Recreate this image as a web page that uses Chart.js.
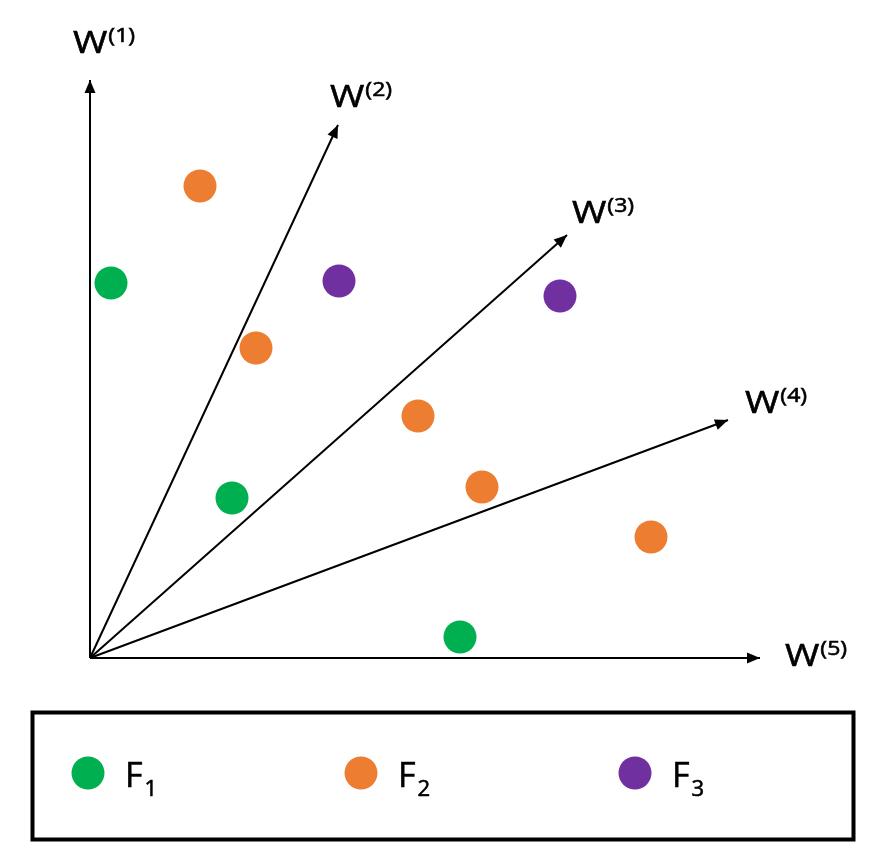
<!DOCTYPE html>
<html>
<head>
<meta charset="utf-8">
<script src="https://cdn.jsdelivr.net/npm/chart.js@4.4.1/dist/chart.umd.min.js"></script>
<style>
  body { margin: 0; background: #fff; }
</style>
</head>
<body>
<canvas id="wChart" width="880" height="864"></canvas>
<script>
// weight directions (tip of each arrow, origin is 0,0)
var arrowNames = ['1', '2', '3', '4', '5'];
var arrowX = [0, 248, 477, 638, 670];
var arrowY = [578, 533, 423, 238, 0];

// feature groups
var seriesNames = ['F', 'F', 'F'];
var seriesSubs = ['1', '2', '3'];
var f1X = [21, 142, 370];
var f1Y = [375, 160, 21];
var f2X = [110, 166, 328, 392, 561];
var f2Y = [472, 310, 242, 171, 121];
var f3X = [249, 470];
var f3Y = [377, 362];

var colors = ['#00b050', '#ed7d31', '#7030a0'];
var fontFam = '"Open Sans", "DejaVu Sans", sans-serif';

function pts(xs, ys) {
    return xs.map(function(x, i){ return {x: x, y: ys[i]}; });
}

var datasets = [];
[[f1X, f1Y], [f2X, f2Y], [f3X, f3Y]].forEach(function(s, i){
    datasets.push({
        label: seriesNames[i] + seriesSubs[i],
        data: pts(s[0], s[1]),
        backgroundColor: colors[i],
        borderColor: colors[i],
        pointRadius: 16.5,
        pointHoverRadius: 16.5,
        borderWidth: 0,
        clip: false
    });
});
arrowX.forEach(function(x, i){
    datasets.push({
        label: 'W' + arrowNames[i],
        data: [{x: 0, y: 0}, {x: x, y: arrowY[i]}],
        showLine: true,
        borderColor: '#000',
        borderWidth: 2,
        pointRadius: 0,
        clip: false,
        isArrow: true,
        arrowIdx: i
    });
});

// label offsets from arrow tip (px)
var labelOff = [[-17, -27], [-8, -18], [5, -12], [17, -7], [25, 8]];

// text drawn a bit wider, like the original
function wideText(ctx, txt, x, y, sx) {
    ctx.save();
    ctx.translate(x, y);
    ctx.scale(sx, 1);
    ctx.fillText(txt, 0, 0);
    ctx.lineWidth = 0.6;
    ctx.strokeStyle = '#000';
    ctx.strokeText(txt, 0, 0);
    ctx.restore();
    return ctx.measureText(txt).width * sx;
}

var arrowPlugin = {
    id: 'arrows',
    afterDatasetsDraw: function(chart){
        var ctx = chart.ctx;
        var xs = chart.scales.x, ys = chart.scales.y;
        ctx.save();
        chart.data.datasets.forEach(function(ds){
            if (!ds.isArrow) return;
            var x0 = xs.getPixelForValue(0), y0 = ys.getPixelForValue(0);
            var x1 = xs.getPixelForValue(ds.data[1].x), y1 = ys.getPixelForValue(ds.data[1].y);
            var a = Math.atan2(y1 - y0, x1 - x0);
            var len = 13, hw = 5.5;
            ctx.fillStyle = '#000';
            ctx.beginPath();
            ctx.moveTo(x1, y1);
            ctx.lineTo(x1 - len*Math.cos(a) + hw*Math.sin(a), y1 - len*Math.sin(a) - hw*Math.cos(a));
            ctx.lineTo(x1 - len*Math.cos(a) - hw*Math.sin(a), y1 - len*Math.sin(a) + hw*Math.cos(a));
            ctx.closePath();
            ctx.fill();

            var off = labelOff[ds.arrowIdx];
            var lx = x1 + off[0], ly = y1 + off[1];
            ctx.textBaseline = 'alphabetic';
            ctx.textAlign = 'left';
            ctx.font = '31px ' + fontFam;
            var w = wideText(ctx, 'W', lx, ly, 1.2);
            ctx.font = '20px ' + fontFam;
            wideText(ctx, '(' + arrowNames[ds.arrowIdx] + ')', lx + w + 1, ly - 11, 1.15);
        });
        ctx.restore();
    }
};

var legendX = [88, 361, 635];
var boxPlugin = {
    id: 'boxLegend',
    afterDraw: function(chart){
        var ctx = chart.ctx;
        ctx.save();
        ctx.strokeStyle = '#000';
        ctx.lineWidth = 4;
        ctx.strokeRect(32.5, 712.5, 821, 127);
        seriesNames.forEach(function(n, i){
            var cx = legendX[i], cy = 773;
            ctx.fillStyle = colors[i];
            ctx.beginPath();
            ctx.arc(cx, cy, 16.5, 0, Math.PI*2);
            ctx.fill();
            ctx.fillStyle = '#000';
            ctx.textAlign = 'left';
            ctx.textBaseline = 'alphabetic';
            ctx.font = '34px ' + fontFam;
            var w = wideText(ctx, n, cx + 37, 787, 1.0);
            ctx.font = '21px ' + fontFam;
            wideText(ctx, seriesSubs[i], cx + 37 + w + 2, 796, 1.05);
        });
        ctx.restore();
    }
};

new Chart(document.getElementById('wChart'), {
    type: 'scatter',
    data: { datasets: datasets },
    options: {
        responsive: false,
        animation: false,
        devicePixelRatio: 1,
        layout: { padding: { left: 90, top: 20, right: 20, bottom: 206 } },
        scales: {
            x: { type: 'linear', min: 0, max: 770, display: false },
            y: { type: 'linear', min: 0, max: 638, display: false }
        },
        plugins: {
            legend: { display: false },
            tooltip: { enabled: false }
        },
        events: []
    },
    plugins: [arrowPlugin, boxPlugin]
});
</script>
</body>
</html>
